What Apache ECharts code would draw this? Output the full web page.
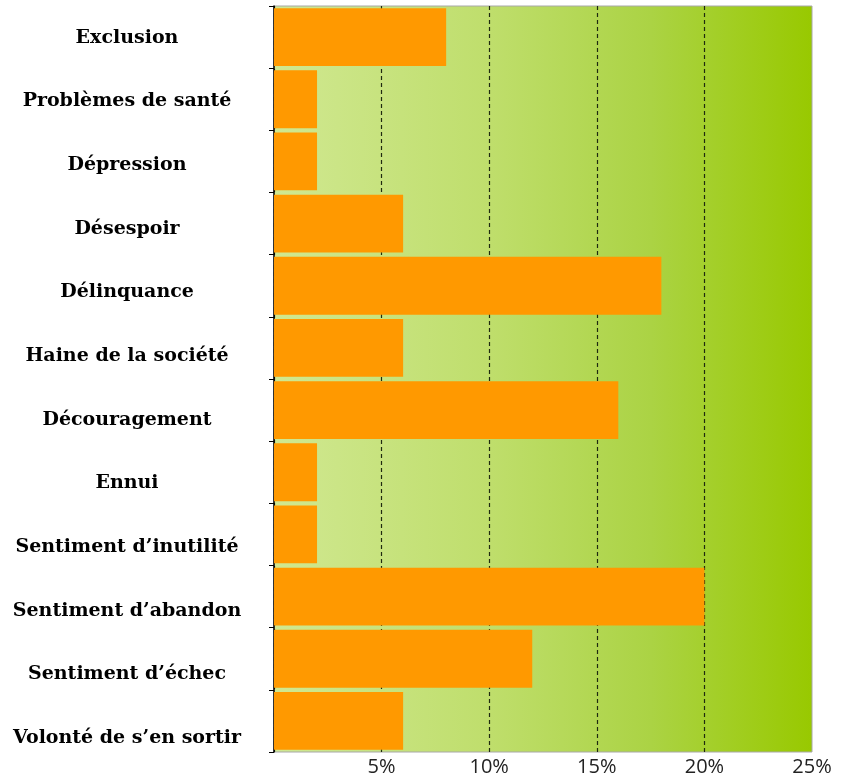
<!DOCTYPE html>
<html>
<head>
<meta charset="utf-8">
<script src="https://cdn.jsdelivr.net/npm/echarts@6/dist/echarts.min.js"></script>
<style>html,body{margin:0;padding:0;background:#fff}#c{width:857px;height:780px}</style>
</head>
<body>
<div id="c"></div>
<script>
const categories = ["Exclusion","Problèmes de santé","Dépression","Désespoir","Délinquance","Haine de la société","Découragement","Ennui","Sentiment d’inutilité","Sentiment d’abandon","Sentiment d’échec","Volonté de s’en sortir"];
const values = [8,2,2,6,18,6,16,2,2,20,12,6];
const xTicks = [0,5,10,15,20,25];

const chart = echarts.init(document.getElementById('c'));
chart.setOption({
  animation: false,
  grid: [{
    left: 274, right: 45, top: 6, bottom: 28,
    show: true,
    borderColor: '#a8a8a8', borderWidth: 1,
    backgroundColor: {
      type: 'linear', x: 0, y: 0, x2: 1, y2: 0,
      colorStops: [
        {offset: 0, color: '#d0e891'},
        {offset: 0.4, color: '#bfde6c'},
        {offset: 0.7, color: '#abd344'},
        {offset: 1, color: '#98c900'}
      ]
    }
  }, {
    left: 274, right: 45, top: 6, bottom: 10
  }],
  xAxis: [{
    type: 'value', min: xTicks[0], max: xTicks[xTicks.length-1], interval: 5,
    gridIndex: 0,
    axisLine: {show: false},
    axisTick: {show: false},
    splitLine: {show: true, showMaxLine: false, lineStyle: {color: '#1f2a10', type: [4,3], width: 1.2}},
    axisLabel: {
      formatter: v => v === 0 ? '' : v + '%',
      fontFamily: 'Open Sans', fontSize: 20, color: '#222', margin: 5
    }
  }, {
    type: 'value', gridIndex: 1, show: false, min: 0, max: 25
  }],
  yAxis: [{
    type: 'category', inverse: true, data: categories, gridIndex: 0,
    axisLine: {show: true, lineStyle: {color: '#000', width: 1.5}},
    axisTick: {show: true, length: 5, lineStyle: {color: '#000'}},
    axisLabel: {show: false}
  }, {
    type: 'category', inverse: true, data: categories, gridIndex: 1,
    axisLine: {show: false},
    axisTick: {show: false},
    splitLine: {show: false},
    axisLabel: {
      align: 'center', margin: 147,
      fontFamily: 'DejaVu Serif', fontWeight: 'bold', fontSize: 19, color: '#000'
    }
  }],
  series: [{
    type: 'bar', data: values, barCategoryGap: '7%',
    xAxisIndex: 0, yAxisIndex: 0,
    itemStyle: {color: '#ff9900'}
  }]
});
</script>
</body>
</html>
